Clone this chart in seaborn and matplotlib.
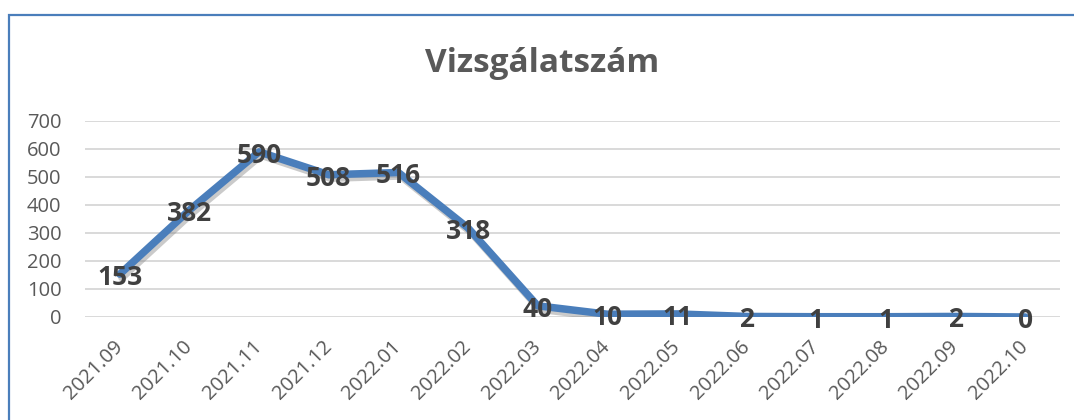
import matplotlib
matplotlib.use('Agg')
import matplotlib.pyplot as plt
import matplotlib.patheffects as pe
from matplotlib.patches import Rectangle
import pandas as pd
import seaborn as sns

# Data
months = ['2021.09', '2021.10', '2021.11', '2021.12', '2022.01', '2022.02', '2022.03',
          '2022.04', '2022.05', '2022.06', '2022.07', '2022.08', '2022.09', '2022.10']
counts = [153, 382, 590, 508, 516, 318, 40, 10, 11, 2, 1, 1, 2, 0]
y_ticks = [0, 100, 200, 300, 400, 500, 600, 700]
title = 'Vizsgálatszám'

df = pd.DataFrame({'Hónap': months, 'Vizsgálatszám': counts})

sns.set_style('white')
plt.rcParams['font.family'] = ['Open Sans', 'DejaVu Sans']

line_color = '#4a7ebb'
text_gray = '#595959'
label_gray = '#404040'

fig = plt.figure(figsize=(10.74, 4.2), dpi=100)
ax = fig.add_axes([85 / 1074, 103 / 420, 975 / 1074, 196 / 420])

sns.lineplot(data=df, x='Hónap', y='Vizsgálatszám', ax=ax, color=line_color,
             linewidth=5.4, sort=False,
             path_effects=[pe.SimpleLineShadow(offset=(1.5, -2.5), shadow_color='#8a8a8a', alpha=0.45),
                           pe.Normal()])

# data labels centered on the points (slightly below, like Excel)
for i, v in enumerate(counts):
    ax.annotate(str(v), xy=(i, v), xytext=(0, -2.5), textcoords='offset points',
                ha='center', va='center', fontsize=19,
                fontweight='bold', color=label_gray, zorder=5)

ax.set_xlim(-0.5, len(months) - 0.5)
ax.set_ylim(0, 700)
ax.set_yticks(y_ticks)
ax.yaxis.grid(True, color='#d9d9d9', linewidth=1.4)
ax.set_axisbelow(True)
ax.tick_params(axis='y', length=0, pad=17, labelsize=14.5, labelcolor=text_gray)
ax.tick_params(axis='x', length=0, pad=19, labelsize=14.5, labelcolor=text_gray)
plt.setp(ax.get_xticklabels(), rotation=45, ha='right', va='center', rotation_mode='anchor')
ax.set_xlabel('')
ax.set_ylabel('')
sns.despine(ax=ax, left=True, bottom=True)

fig.text(542 / 1074, 1 - 64 / 420, title, ha='center', va='center',
         fontsize=24, fontweight='bold', color=text_gray)

# chart frame
fig.patches.append(Rectangle((8.5 / 1074, -0.1), 1.2, 1.1 - 15 / 420,
                             transform=fig.transFigure, fill=False,
                             edgecolor=line_color, linewidth=1.6))

fig.savefig('out.png', dpi=100)
